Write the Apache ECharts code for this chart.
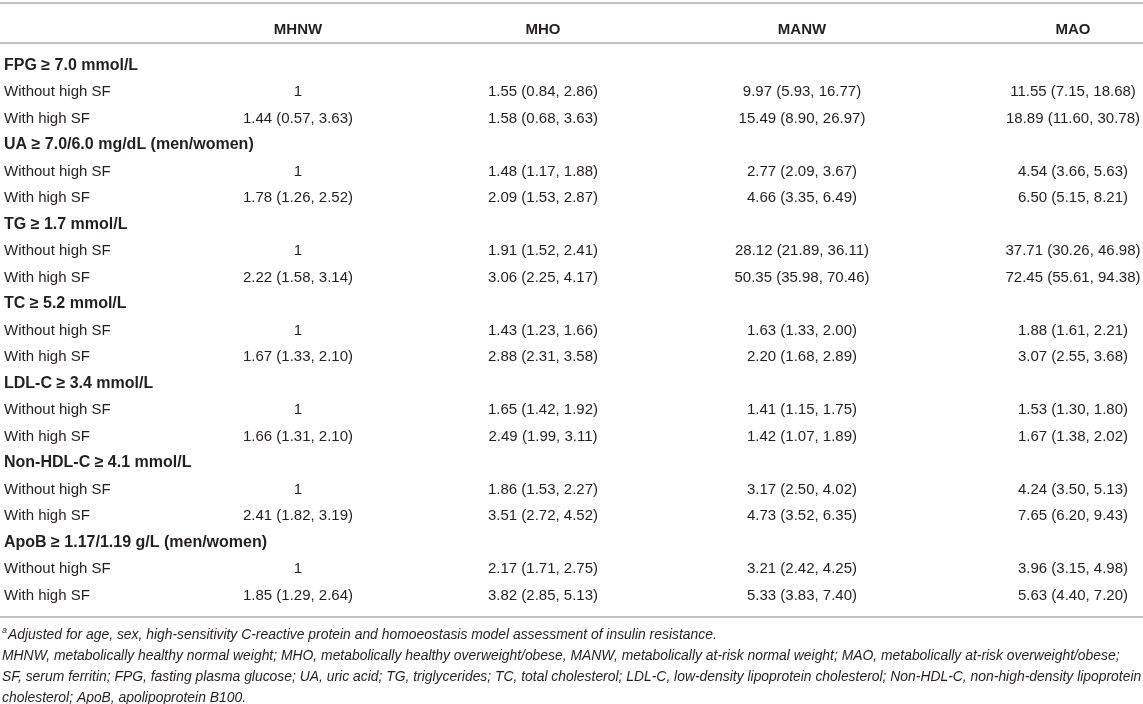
<!DOCTYPE html>
<html>
<head>
<meta charset="utf-8">
<title>Odds ratios by metabolic phenotype and serum ferritin</title>
<script src="https://cdn.jsdelivr.net/npm/echarts@6/dist/echarts.min.js"></script>
<style>
  html, body { margin: 0; padding: 0; background: #fff; }
  #main { width: 1143px; height: 704px; }
</style>
</head>
<body>
<div id="main"></div>
<script>
// table content
var columns = ['MHNW', 'MHO', 'MANW', 'MAO'];
var groups = [
    'FPG \u2265 7.0 mmol/L',
    'UA \u2265 7.0/6.0 mg/dL (men/women)',
    'TG \u2265 1.7 mmol/L',
    'TC \u2265 5.2 mmol/L',
    'LDL-C \u2265 3.4 mmol/L',
    'Non-HDL-C \u2265 4.1 mmol/L',
    'ApoB \u2265 1.17/1.19 g/L (men/women)'
];
var subRows = ['Without high SF', 'With high SF'];

// OR (95% CI), two rows per group: without / with high SF; [1] = reference
var mhnw = [
    [1], [1.44, 0.57, 3.63],
    [1], [1.78, 1.26, 2.52],
    [1], [2.22, 1.58, 3.14],
    [1], [1.67, 1.33, 2.10],
    [1], [1.66, 1.31, 2.10],
    [1], [2.41, 1.82, 3.19],
    [1], [1.85, 1.29, 2.64]
];
var mho = [
    [1.55, 0.84, 2.86], [1.58, 0.68, 3.63],
    [1.48, 1.17, 1.88], [2.09, 1.53, 2.87],
    [1.91, 1.52, 2.41], [3.06, 2.25, 4.17],
    [1.43, 1.23, 1.66], [2.88, 2.31, 3.58],
    [1.65, 1.42, 1.92], [2.49, 1.99, 3.11],
    [1.86, 1.53, 2.27], [3.51, 2.72, 4.52],
    [2.17, 1.71, 2.75], [3.82, 2.85, 5.13]
];
var manw = [
    [9.97, 5.93, 16.77], [15.49, 8.90, 26.97],
    [2.77, 2.09, 3.67], [4.66, 3.35, 6.49],
    [28.12, 21.89, 36.11], [50.35, 35.98, 70.46],
    [1.63, 1.33, 2.00], [2.20, 1.68, 2.89],
    [1.41, 1.15, 1.75], [1.42, 1.07, 1.89],
    [3.17, 2.50, 4.02], [4.73, 3.52, 6.35],
    [3.21, 2.42, 4.25], [5.33, 3.83, 7.40]
];
var mao = [
    [11.55, 7.15, 18.68], [18.89, 11.60, 30.78],
    [4.54, 3.66, 5.63], [6.50, 5.15, 8.21],
    [37.71, 30.26, 46.98], [72.45, 55.61, 94.38],
    [1.88, 1.61, 2.21], [3.07, 2.55, 3.68],
    [1.53, 1.30, 1.80], [1.67, 1.38, 2.02],
    [4.24, 3.50, 5.13], [7.65, 6.20, 9.43],
    [3.96, 3.15, 4.98], [5.63, 4.40, 7.20]
];
var colValues = [mhnw, mho, manw, mao];

var footLines = [
    'Adjusted for age, sex, high-sensitivity C-reactive protein and homoeostasis model assessment of insulin resistance.',
    'MHNW, metabolically healthy normal weight; MHO, metabolically healthy overweight/obese, MANW, metabolically at-risk normal weight; MAO, metabolically at-risk overweight/obese;',
    'SF, serum ferritin; FPG, fasting plasma glucose; UA, uric acid; TG, triglycerides; TC, total cholesterol; LDL-C, low-density lipoprotein cholesterol; Non-HDL-C, non-high-density lipoprotein',
    'cholesterol; ApoB, apolipoprotein B100.'
];

// layout (pixels along the x axis, row units along the y axis)
var labelX = 4;
var colX = [298, 543, 802, 1073];
var headRow = -1.36;
var headRule = -0.85;
var yMin = -2.36;
var yMax = 20.81;

var FONT = '"Liberation Sans", Arial, Helvetica, sans-serif';
var TEXT = '#231f20';
var RULE = '#c2c2c2';

function fmt(v) {
    if (v.length === 1) return String(v[0]);
    return v[0].toFixed(2) + ' (' + v[1].toFixed(2) + ', ' + v[2].toFixed(2) + ')';
}

// build cells: [x, row] + text info
var cells = [];
columns.forEach(function (name, c) {
    cells.push({ x: colX[c], row: headRow, text: name, bold: true, size: 15, align: 'center' });
});
groups.forEach(function (g, gi) {
    var r = gi * 3;
    cells.push({ x: labelX, row: r, text: g, bold: true, size: 16, align: 'left' });
    subRows.forEach(function (s, si) {
        cells.push({ x: labelX, row: r + 1 + si, text: s, bold: false, size: 15, align: 'left' });
        colValues.forEach(function (vals, c) {
            cells.push({ x: colX[c], row: r + 1 + si, text: fmt(vals[gi * 2 + si]), bold: false, size: 15, align: 'center' });
        });
    });
});

var rich = {
    sup: { fontSize: 9, fontStyle: 'italic', fontWeight: 'normal', fontFamily: FONT, color: TEXT, padding: [0, 1, 9, 0] },
    it: { fontSize: 13.9, fontStyle: 'italic', fontWeight: 'normal', fontFamily: FONT, color: TEXT, lineHeight: 21.3 }
};
var footText = footLines.map(function (l, i) {
    return (i === 0 ? '{sup|a}' : '') + '{it|' + l + '}';
}).join('\n');

var myChart = echarts.init(document.getElementById('main'));

var option = {
    animation: false,
    backgroundColor: '#fff',
    title: {
        text: footText,
        left: 2,
        top: 624,
        padding: 0,
        textStyle: { rich: rich, lineHeight: 21.3, fontWeight: 'normal' }
    },
    grid: { left: 0, right: 0, top: 3, bottom: 87 },
    xAxis: [
        {
            type: 'value', position: 'top', min: 0, max: 1143,
            axisLine: { show: true, onZero: false, lineStyle: { color: RULE, width: 2 } },
            axisTick: { show: false }, axisLabel: { show: false }, splitLine: { show: false }
        },
        {
            type: 'value', position: 'bottom', min: 0, max: 1143,
            axisLine: { show: true, onZero: false, lineStyle: { color: RULE, width: 2 } },
            axisTick: { show: false }, axisLabel: { show: false }, splitLine: { show: false }
        }
    ],
    yAxis: {
        type: 'value', inverse: true, min: yMin, max: yMax, show: false
    },
    series: [
        {
            type: 'custom',
            xAxisIndex: 0,
            silent: true,
            data: cells.map(function (c) { return [c.x, c.row]; }),
            encode: { x: 0, y: 1 },
            renderItem: function (params, api) {
                var c = cells[params.dataIndex];
                var p = api.coord([api.value(0), api.value(1)]);
                return {
                    type: 'text',
                    x: p[0],
                    y: p[1],
                    style: {
                        text: c.text,
                        align: c.align,
                        verticalAlign: 'middle',
                        fontFamily: FONT,
                        fontSize: c.size,
                        fontWeight: c.bold ? 'bold' : 'normal',
                        fill: TEXT
                    }
                };
            },
            markLine: {
                silent: true,
                symbol: 'none',
                label: { show: false },
                lineStyle: { color: RULE, width: 2, type: 'solid' },
                data: [{ yAxis: headRule }]
            }
        }
    ]
};

myChart.setOption(option);
</script>
</body>
</html>
